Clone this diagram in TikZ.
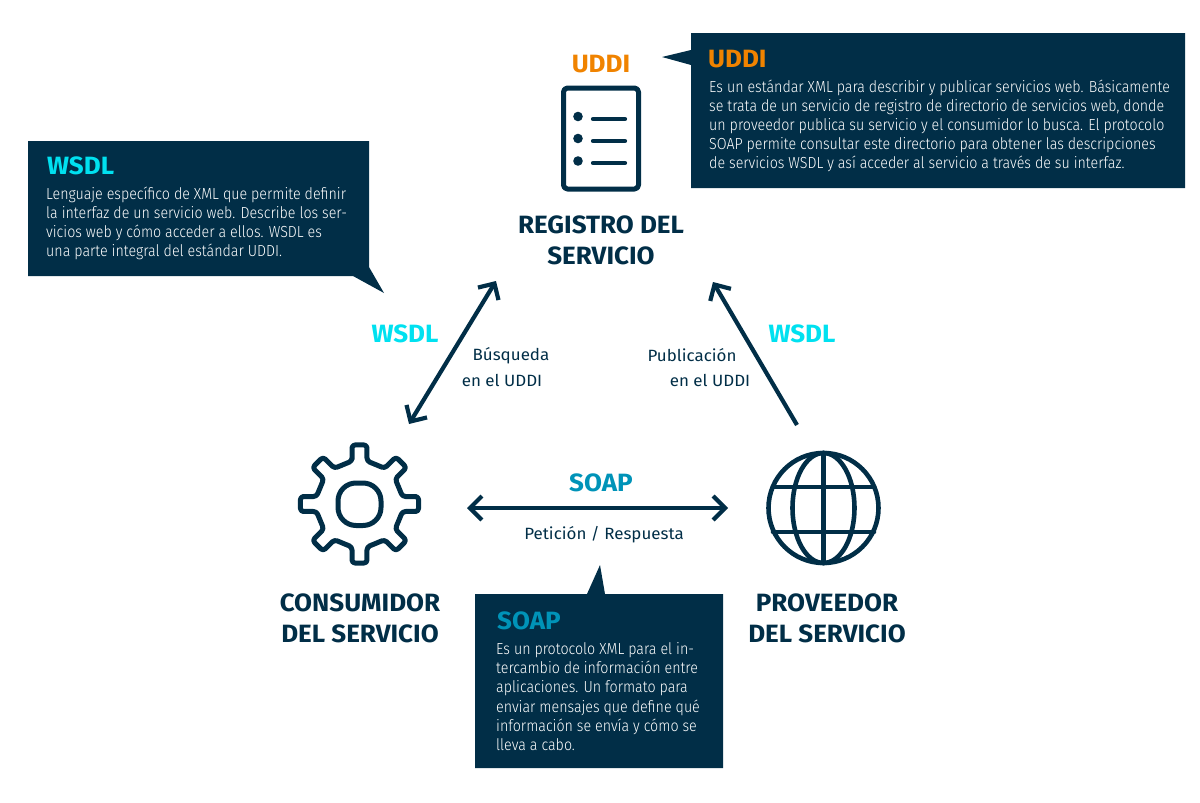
\documentclass[tikz,border=0pt]{standalone}
\usepackage{fontspec}
\usetikzlibrary{arrows.meta}
\setmainfont{Fira Sans}[FakeStretch=1.04]
\newfontfamily\bodyfont{Fira Sans Light}[FakeStretch=0.89]
\definecolor{navy}{HTML}{012E47}
\definecolor{wsdlcyan}{HTML}{00E1F0}
\definecolor{soapblue}{HTML}{0093B8}
\definecolor{uddiorange}{HTML}{F08300}
\tikzset{
    >={Straight Barb[length=12pt, width=24pt, line width=4.2pt]},
    iconline/.style={draw=navy, line width=5pt, line join=round, line cap=round},
    link/.style={draw=navy, line width=4.2pt},
    callout/.style={fill=navy, draw=none},
    role/.style={font=\fontsize{25}{31}\selectfont\bfseries, text=navy, align=center, inner sep=0pt},
    proto/.style={font=\fontsize{25}{28}\selectfont\bfseries, inner sep=0pt},
    calltitle/.style={font=\fontsize{25}{28}\selectfont\bfseries, inner sep=0pt, anchor=west},
    calltext/.style={font=\bodyfont\fontsize{16}{19.1}\selectfont, text=white, align=left, inner sep=0pt, anchor=north west},
    linklabel/.style={font=\fontsize{16.3}{24}\selectfont, text=navy, inner sep=0pt}
}
\begin{document}
\begin{tikzpicture}[x=1pt, y=-1pt]
    \useasboundingbox (0,0) rectangle (1200,803);
    % Callouts
    \fill [callout] (691,33) -- (1185,33) -- (1185,188) -- (691,188) -- (691,65) -- (662,57) -- (691,50) -- cycle;
    \fill [callout] (28,141) -- (369,141) -- (369,267) -- (384,293) -- (353,276) -- (28,276) -- cycle;
    \fill [callout] (475,594) -- (587,594) -- (600,565) -- (605,594) -- (723,594) -- (723,768) -- (475,768) -- cycle;
    \node (uddititle) at (708,59) [calltitle, text=uddiorange] {UDDI};
    \node (udditext) at (709,79.5) [calltext] {Es un estándar XML para describir y publicar servicios web. Básicamente\\se trata de un servicio de registro de directorio de servicios web, donde\\un proveedor publica su servicio y el consumidor lo busca. El protocolo\\SOAP permite consultar este directorio para obtener las descripciones\\de servicios WSDL y así acceder al servicio a través de su interfaz.};
    \node (wsdltitle) at (47,166) [calltitle, text=wsdlcyan] {WSDL};
    \node (wsdltext) at (46,186.5) [calltext] {Lenguaje específico de XML que permite definir\\la interfaz de un servicio web. Describe los ser-\\vicios web y cómo acceder a ellos. WSDL es\\una parte integral del estándar UDDI.};
    \node (soaptitle) at (497,621) [calltitle, text=soapblue] {SOAP};
    \node (soaptext) at (496,642.5) [calltext] {Es un protocolo XML para el in-\\tercambio de información entre\\aplicaciones. Un formato para\\enviar mensajes que define qué\\información se envía y cómo se\\lleva a cabo.};
    % Registry icon
    \draw [iconline, rounded corners=4pt] (563.5,88) rectangle (638.5,189);
    \foreach \y in {116.5,138.5,161} \fill [navy] (578,\y) circle (4.8);
    \foreach \y in {119,141,163} \draw [iconline, line width=4.2pt] (593,\y) -- (625,\y);
    \node (uddi) at (601,64) [proto, text=uddiorange] {UDDI};
    \node (registro) at (601,240) [role] {REGISTRO DEL\\SERVICIO};
    % Gear
    \draw [iconline, rounded corners=3pt, shift={(359.5,504)}] (-99.9:43.65)
        \foreach \a in {0,45,...,315} { -- ({\a-97.2}:59.5) -- ({\a-82.8}:59.5) -- ({\a-80.1}:43.65) -- ({\a-54.9}:43.65) } -- cycle;
    \draw [iconline, rounded corners=18pt] (338,483) rectangle (381,525.5);
    \node (consumidor) at (360,618) [role] {CONSUMIDOR\\DEL SERVICIO};
    % Globe
    \coordinate (G) at (823.5,508);
    \draw [iconline, line width=4.6pt] (G) circle (55);
    \draw [iconline, line width=4.6pt] (G) ellipse (31 and 55);
    \draw [iconline, line width=4.6pt] (823.5,453) -- (823.5,563);
    \draw [iconline, line width=4.6pt] (773,487) -- (874,487);
    \draw [iconline, line width=4.6pt] (773,532) -- (874,532);
    \node (proveedor) at (827,618) [role] {PROVEEDOR\\DEL SERVICIO};
    % Links
    \coordinate (busqA) at (409,424); \coordinate (busqB) at (496,281);
    \coordinate (pubA) at (797,425); \coordinate (pubB) at (713,282);
    \coordinate (reqA) at (467,508); \coordinate (reqB) at (728,508);
    \draw [link, <->] (busqA) -- (busqB);
    \draw [link, ->] (pubA) -- (pubB);
    \draw [link, <->] (reqA) -- (reqB);
    \node (wsdlleft) at (405,334) [proto, text=wsdlcyan] {WSDL};
    \node (wsdlright) at (802,334) [proto, text=wsdlcyan] {WSDL};
    \node (soap) at (601,483) [proto, text=soapblue] {SOAP};
    \node (busqueda) at (511,356) [linklabel] {Búsqueda};
    \node (busquddi) at (502,380) [linklabel] {en el UDDI};
    \node (publica) at (692,355) [linklabel] {Publicación};
    \node (pubuddi) at (710,380) [linklabel] {en el UDDI};
    \node (peticion) at (604,535) [linklabel] {Petición / Respuesta};
\end{tikzpicture}
\end{document}
